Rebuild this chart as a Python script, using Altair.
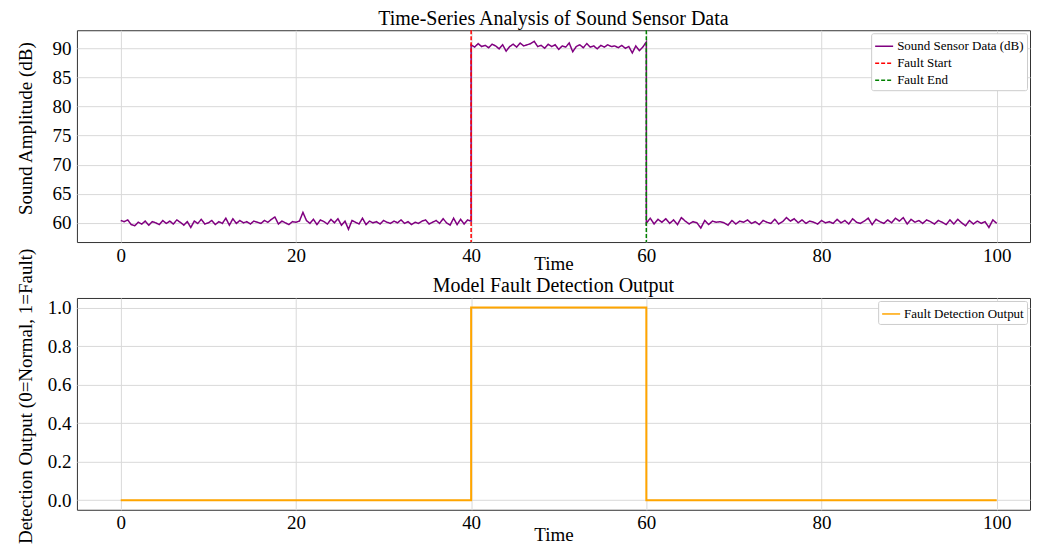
import altair as alt
import pandas as pd
import numpy as np

# Sound sensor readings (dB)
seg_normal_1 = [60.4, 60.2, 60.5, 59.7, 59.5, 60.1, 59.8, 60.3, 59.6, 60.2,
                60.0, 59.7, 60.4, 59.9, 60.3, 59.8, 60.5, 60.1, 59.6, 60.2,
                59.2, 60.3, 59.9, 60.6, 59.8, 60.0, 60.4, 59.7, 60.2, 59.9,
                60.8, 59.6, 60.7, 59.9, 60.4, 60.0, 60.2, 59.8, 60.3, 60.1,
                59.9, 60.4, 60.1, 60.6, 61.0, 59.8, 60.3, 60.0, 59.7, 60.2,
                60.1, 60.3, 61.8, 60.4, 59.9, 60.6, 59.7, 60.5, 60.2, 59.8,
                60.6, 60.0, 60.7, 59.6, 60.3, 58.9, 60.4, 60.1, 59.8, 60.8,
                59.7, 60.3, 60.0, 60.2, 59.8, 60.4, 60.1, 59.9, 60.3, 60.0,
                60.5, 59.9, 60.2, 59.7, 60.1, 59.9, 60.3, 60.5, 59.8, 60.1,
                60.4, 59.9, 60.7, 60.0, 59.6, 60.8, 59.7, 60.6, 59.8, 60.5, 60.3]
seg_fault = [90.6, 90.2, 90.8, 90.3, 90.5, 90.1, 90.7, 90.4, 89.9, 90.6,
             89.5, 90.3, 90.7, 90.2, 90.9, 90.4, 90.6, 90.8, 91.2, 90.3,
             90.5, 90.0, 90.7, 90.3, 90.6, 89.8, 90.4, 90.2, 90.9, 89.4,
             90.3, 90.6, 90.1, 90.8, 90.2, 90.4, 89.9, 90.5, 90.2, 90.6,
             90.3, 90.4, 90.1, 90.5, 90.0, 90.3, 89.2, 90.4, 89.6, 90.2, 91.1]
seg_normal_2 = [59.9, 60.8, 59.8, 60.6, 60.1, 60.7, 59.9, 60.5, 59.7, 60.9,
                60.3, 59.8, 60.2, 60.0, 59.1, 60.4, 59.7, 60.3, 60.1, 60.2,
                60.0, 59.6, 60.4, 59.8, 60.3, 60.1, 60.5, 59.9, 60.2, 59.7,
                60.4, 60.1, 59.9, 60.6, 59.8, 60.2, 60.9, 60.3, 60.7, 60.0,
                60.5, 59.9, 60.3, 60.1, 59.8, 60.4, 60.0, 60.2, 59.9, 60.6,
                60.0, 60.4, 59.8, 60.7, 60.1, 59.9, 60.3, 60.8, 59.7, 60.6,
                60.2, 59.9, 60.5, 60.0, 60.8, 60.3, 60.9, 59.8, 60.6, 60.1,
                60.4, 59.9, 60.5, 60.2, 59.8, 60.4, 60.1, 59.7, 60.5, 59.8,
                60.6, 60.0, 59.5, 60.4, 59.8, 60.3, 59.9, 60.2, 59.2, 60.5, 59.9]

t1 = np.round(np.linspace(0, 40, len(seg_normal_1)), 3)
t2 = np.round(np.linspace(40, 60, len(seg_fault)), 3)
t3 = np.round(np.linspace(60, 100, len(seg_normal_2)), 3)

fault_times = [40, 60]
fault_labels = ["Fault Start", "Fault End"]

det_time = [0, 40, 40, 60, 60, 100]
det_value = [0, 0, 1, 1, 0, 0]

x_ticks = [0, 20, 40, 60, 80, 100]
y_ticks_top = [60, 65, 70, 75, 80, 85, 90]
y_ticks_bottom = [0.0, 0.2, 0.4, 0.6, 0.8, 1.0]

series_domain = ["Sound Sensor Data (dB)", "Fault Start", "Fault End"]
series_colors = ["#800080", "#ff0000", "#008000"]
series_dash = [[1, 0], [4, 2], [4, 2]]

FONT = "Liberation Serif"

sound = pd.DataFrame({
    "Time": np.concatenate([t1, t2, t3]),
    "Value": seg_normal_1 + seg_fault + seg_normal_2,
})
sound["Series"] = series_domain[0]
sound["idx"] = range(len(sound))

rules = pd.DataFrame({"Time": fault_times, "Series": fault_labels})

det = pd.DataFrame({"Time": det_time, "Output": det_value,
                    "Series": "Fault Detection Output"})
det["idx"] = range(len(det))

xscale = alt.Scale(domain=[-5, 103.8], nice=False, zero=False)
color_top = alt.Color("Series:N", scale=alt.Scale(domain=series_domain, range=series_colors),
                      legend=alt.Legend(title=None))
dash_top = alt.StrokeDash("Series:N", scale=alt.Scale(domain=series_domain, range=series_dash),
                          legend=alt.Legend(title=None))

x_axis = lambda ty: alt.Axis(values=x_ticks, title="Time", titleBaseline="top", titleY=ty,
                             labelPadding=4)

W = 954
H = 212
TY = H / 2 - 8

line_top = alt.Chart(sound).mark_line(strokeWidth=1.5).encode(
    x=alt.X("Time:Q", scale=xscale, axis=x_axis(12)),
    y=alt.Y("Value:Q", scale=alt.Scale(domain=[56.7, 93.1], nice=False, zero=False),
            axis=alt.Axis(values=y_ticks_top, title="Sound Amplitude (dB)", titlePadding=16,
                          labelPadding=6, titleY=TY)),
    color=color_top,
    strokeDash=dash_top,
    order="idx:Q",
)
rule_top = alt.Chart(rules).mark_rule(strokeWidth=1.5).encode(
    x=alt.X("Time:Q", scale=xscale),
    color=color_top,
    strokeDash=dash_top,
)
top = alt.layer(line_top, rule_top).properties(
    width=W, height=H,
    title=alt.TitleParams("Time-Series Analysis of Sound Sensor Data", font=FONT,
                          fontSize=20, fontWeight="normal", offset=0, color="black"),
)

bottom = alt.Chart(det).mark_line(strokeWidth=2).encode(
    x=alt.X("Time:Q", scale=xscale, axis=x_axis(16)),
    y=alt.Y("Output:Q", scale=alt.Scale(domain=[-0.05, 1.05], nice=False, zero=False),
            axis=alt.Axis(values=y_ticks_bottom, format=".1f",
                          title="Detection Output (0=Normal, 1=Fault)", titlePadding=12,
                          labelPadding=6, titleY=TY)),
    color=alt.Color("Series:N", scale=alt.Scale(domain=["Fault Detection Output"], range=["#FFA500"]),
                    legend=alt.Legend(title=None)),
    order="idx:Q",
).properties(
    width=W, height=H,
    title=alt.TitleParams("Model Fault Detection Output", font=FONT,
                          fontSize=20, fontWeight="normal", offset=0, color="black", dy=48),
)

chart = alt.vconcat(top, bottom, spacing=56, bounds="flush").resolve_scale(
    color="independent", strokeDash="independent"
).resolve_legend(
    color="independent", strokeDash="independent"
).properties(
    padding={"left": 7, "top": 0, "right": 0, "bottom": 0}
).configure_view(
    stroke="#333333", strokeWidth=1
).configure_axis(
    labelFont=FONT, labelFontSize=19, labelColor="black",
    titleFont=FONT, titleFontSize=19, titleFontWeight="normal", titleColor="black",
    gridColor="#d9d9d9", gridWidth=1, domain=False, ticks=False,
).configure_legend(
    orient="top-right", offset=3, fillColor="white", strokeColor="#cccccc",
    padding=3, cornerRadius=2, labelFont=FONT, labelFontSize=13, labelColor="black",
    symbolType="stroke", symbolSize=324, symbolStrokeWidth=1.5, rowPadding=0,
    labelOffset=3,
)

chart.save("out.html", embed_options={"renderer": "svg", "actions": False})
